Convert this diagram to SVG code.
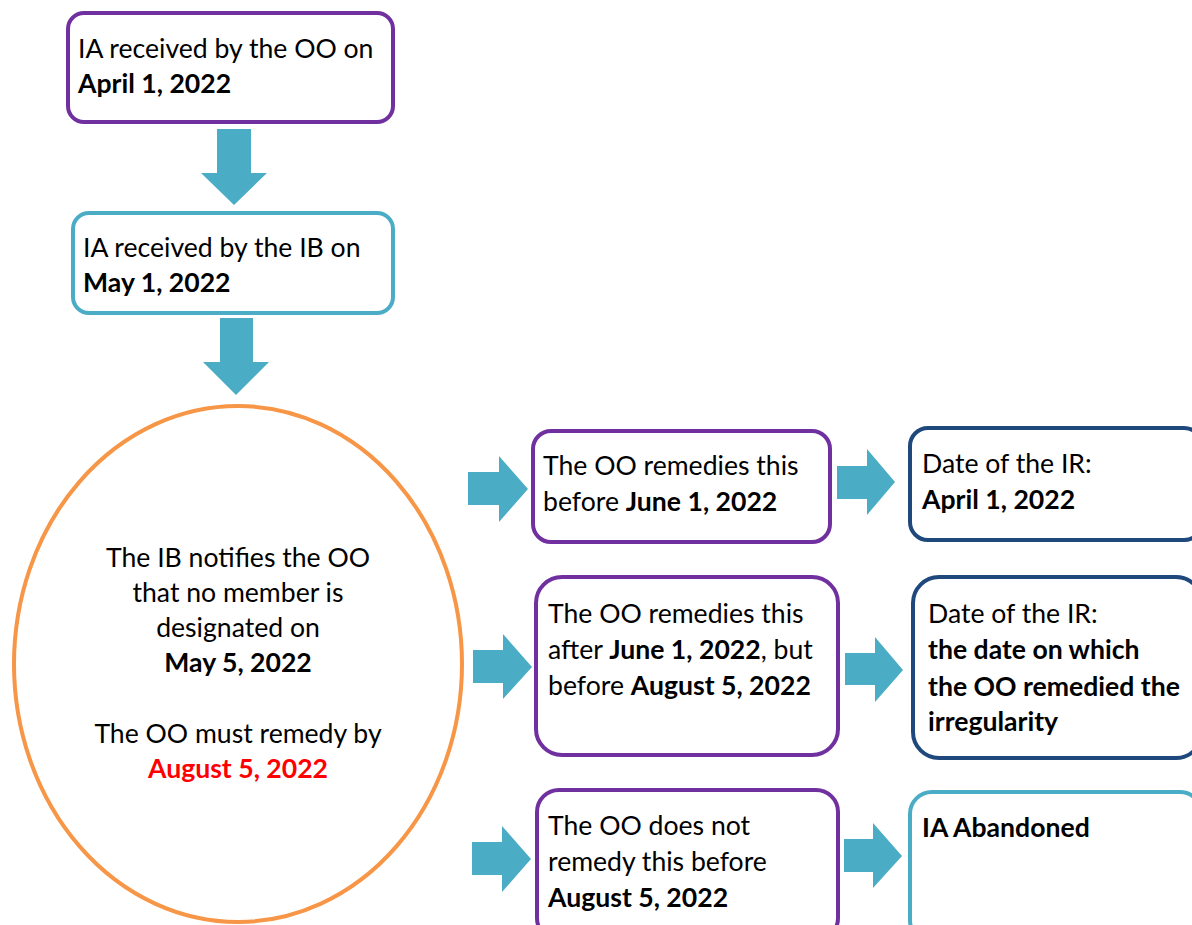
<svg xmlns="http://www.w3.org/2000/svg" width="1192" height="925" viewBox="0 0 1192 925">
<style>
.box{fill:#fff;stroke-width:4}
.pur{stroke:#7030A0}
.cyan{stroke:#4BACC6}
.navy{stroke:#1F497D}
.orange{fill:#fff;stroke:#F79646;stroke-width:4}
.arr{fill:#4BACC6}
text{font-family:Lato,"Liberation Sans",sans-serif;font-size:26.6px;fill:#000}
.b{font-weight:bold}
.red{fill:#FF0000;font-weight:bold}
</style>
<rect width="1192" height="925" fill="#fff"/>
<g id="connectors">
<polygon class="arr" points="217,129 251,129 251,173 267,173 234,205 201,173 217,173"/>
<polygon class="arr" points="220,318 253,318 253,362 269,362 236,395 203,362 220,362"/>
<polygon class="arr" points="468,472 499,472 499,456 528,489 499,522 499,505 468,505"/>
<polygon class="arr" points="837,466 867,466 867,449 895,482 867,515 867,499 837,499"/>
<polygon class="arr" points="473,650 503,650 503,634 532,667 503,699 503,683 473,683"/>
<polygon class="arr" points="845,653 875,653 875,637 903,670 875,702 875,685 845,685"/>
<polygon class="arr" points="472,842 502,842 502,826 531,859 502,892 502,875 472,875"/>
<polygon class="arr" points="844,839 873,839 873,823 902,856 873,888 873,872 844,872"/>
</g>
<g id="n1">
<rect class="box pur" x="68" y="13" width="325" height="109" rx="16"/>
<text x="78" y="58">IA received by the OO on</text>
<text x="78" y="93" class="b">April 1, 2022</text>
</g>
<g id="n2">
<rect class="box cyan" x="73" y="213" width="320" height="100" rx="16"/>
<text x="83" y="257">IA received by the IB on</text>
<text x="83" y="292" class="b">May 1, 2022</text>
</g>
<g id="n3">
<ellipse class="orange" cx="238" cy="664" rx="224" ry="258"/>
<g text-anchor="middle">
<text x="238" y="567">The IB notifies the OO</text>
<text x="238" y="602">that no member is</text>
<text x="238" y="637">designated on</text>
<text x="238" y="672" class="b">May 5, 2022</text>
<text x="238" y="743">The OO must remedy by</text>
<text x="238" y="778" class="red">August 5, 2022</text>
</g>
</g>
<g id="n4">
<rect class="box pur" x="533" y="431" width="297" height="111" rx="18"/>
<text x="543" y="475">The OO remedies this</text>
<text x="543" y="511">before <tspan class="b">June 1, 2022</tspan></text>
</g>
<g id="n5">
<rect class="box navy" x="910" y="428" width="292" height="112" rx="18"/>
<text x="922" y="473">Date of the IR:</text>
<text x="922" y="509" class="b">April 1, 2022</text>
</g>
<g id="n6">
<rect class="box pur" x="536" y="577" width="302" height="178" rx="26"/>
<text x="548" y="623">The OO remedies this</text>
<text x="548" y="659">after <tspan class="b">June 1, 2022</tspan>, but</text>
<text x="548" y="695">before <tspan class="b">August 5, 2022</tspan></text>
</g>
<g id="n7">
<rect class="box navy" x="913" y="577" width="289" height="181" rx="26"/>
<text x="928" y="623">Date of the IR:</text>
<text x="928" y="659" class="b">the date on which</text>
<text x="928" y="696" class="b">the OO remedied the</text>
<text x="928" y="731" class="b">irregularity</text>
</g>
<g id="n8">
<rect class="box pur" x="537" y="790" width="301" height="150" rx="22"/>
<text x="548" y="835">The OO does not</text>
<text x="548" y="871">remedy this before</text>
<text x="548" y="907" class="b">August 5, 2022</text>
</g>
<g id="n9">
<rect class="box cyan" x="910" y="792" width="292" height="150" rx="22"/>
<text x="922" y="837" class="b">IA Abandoned</text>
</g>
</svg>
